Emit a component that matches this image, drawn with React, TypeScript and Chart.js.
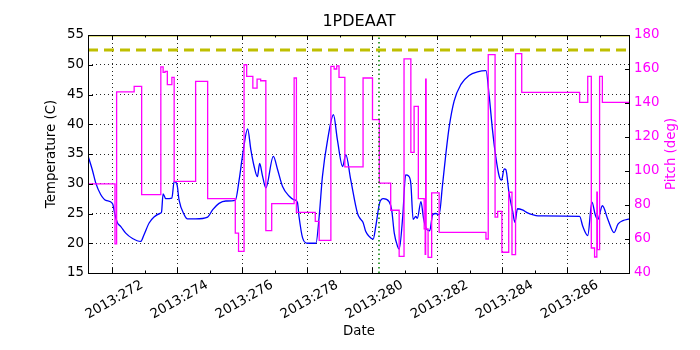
import React, { useEffect, useRef } from 'react';
import { Chart, registerables } from 'chart.js';

Chart.register(...registerables);

const chartTitle = '1PDEAAT';
const xTitle = 'Date';
const leftTitle = 'Temperature (C)';
const rightTitle = 'Pitch (deg)';
const datePrefix = '2013:';

const xMin = 271.26;
const xMax = 287.93;
const tempMin = 15;
const tempMax = 55;
const tempStep = 5;
const pitchMin = 40;
const pitchMax = 180;
const pitchStep = 20;

const planningLimit = 52.5;
const upperLimit = 55;
const markerDay = 280.21;

const tempDays = [
  271.26, 271.39, 271.5, 271.65, 271.81, 272.01, 272.09, 272.16, 272.27, 272.42,
  272.63, 272.88, 272.98, 273.14, 273.29, 273.47, 273.52, 273.57, 273.65, 273.84,
  273.91, 274.0, 274.06, 274.22, 274.32, 274.57, 274.94, 275.09, 275.29, 275.5,
  275.79, 275.91, 276.01, 276.17, 276.27, 276.37, 276.47, 276.54, 276.62, 276.73,
  276.96, 277.09, 277.24, 277.45, 277.6, 277.7, 277.75, 277.86, 278.01, 278.27,
  278.37, 278.47, 278.63, 278.81, 278.93, 279.09, 279.19, 279.34, 279.55, 279.65,
  279.72, 279.8, 279.9, 280.03, 280.11, 280.23, 280.34, 280.52, 280.6, 280.68,
  280.78, 280.83, 280.94, 281.03, 281.12, 281.19, 281.26, 281.34, 281.39, 281.5,
  281.58, 281.67, 281.77, 281.86, 281.96, 282.06, 282.16, 282.27, 282.37, 282.52,
  282.73, 282.98, 283.24, 283.5, 283.6, 283.7, 283.8, 283.91, 283.98, 284.06,
  284.11, 284.21, 284.32, 284.39, 284.47, 284.62, 284.78, 284.93, 285.1, 286.38,
  286.48, 286.63, 286.76, 286.86, 286.94, 287.08, 287.25, 287.44, 287.56, 287.71,
  287.92,
];
const tempValues = [
  34.7, 32.4, 30.1, 28.2, 27.2, 26.7, 24.8, 23.5, 22.8, 21.7,
  20.8, 20.3, 21.4, 23.4, 24.4, 25.0, 25.2, 28.3, 27.5, 27.6,
  30.4, 29.8, 27.3, 24.8, 24.1, 24.1, 24.4, 25.6, 26.7, 27.1,
  27.2, 30.7, 34.6, 39.2, 35.7, 32.9, 31.2, 33.4, 31.5, 29.3,
  34.6, 32.4, 29.6, 27.9, 27.3, 26.9, 24.5, 20.9, 20.0, 20.0,
  24.5, 31.2, 37.4, 41.6, 37.4, 32.9, 34.9, 30.7, 25.0, 24.0,
  23.5, 22.0, 21.2, 20.7, 22.8, 26.8, 27.5, 27.0, 25.6, 21.7,
  19.5, 19.0, 24.5, 31.5, 31.3, 30.0, 24.0, 24.5, 24.2, 27.0,
  24.2, 22.4, 22.1, 24.8, 25.0, 24.8, 29.6, 35.2, 39.6, 43.9,
  46.7, 48.2, 48.8, 49.0, 44.7, 39.1, 34.6, 31.2, 30.6, 32.5,
  32.4, 28.4, 25.4, 23.5, 25.8, 25.6, 25.1, 24.8, 24.6, 24.5,
  22.8, 21.3, 26.9, 24.8, 24.0, 26.3, 24.0, 21.8, 23.2, 23.8,
  24.1,
];

const pitchDays = [
  271.26, 272.09, 272.14, 272.68, 272.91, 273.5, 273.57, 273.63, 273.7, 273.84,
  273.91, 274.57, 274.94, 275.79, 275.89, 276.06, 276.14, 276.33, 276.46, 276.57,
  276.73, 276.91, 277.6, 277.67, 278.25, 278.37, 278.73, 278.83, 278.91, 278.98,
  279.16, 279.72, 280.01, 280.22, 280.57, 280.83, 280.98, 281.19, 281.29, 281.42,
  281.6, 281.63, 281.645, 281.66, 281.72, 281.83, 282.06, 283.5, 283.57, 283.78,
  283.86, 283.99, 284.2, 284.3, 284.41, 284.6, 286.38, 286.63, 286.74, 286.84,
  286.91, 286.925, 286.995, 287.08, 287.93,
];
const pitchValues = [
  92.4, 57.1, 146.5, 149.8, 86.1, 161.2, 158.0, 158.6, 150.8, 155.1,
  93.9, 152.7, 83.7, 63.5, 52.7, 162.5, 155.7, 148.8, 154.1, 153.1,
  64.9, 80.8, 154.7, 75.7, 70.4, 59.2, 161.6, 160.0, 161.8, 155.1,
  102.4, 154.7, 130.2, 92.9, 76.9, 49.8, 165.9, 111.0, 138.0, 83.7,
  66.0, 51.0, 154.0, 66.0, 49.2, 87.1, 63.9, 60.0, 168.4, 72.9,
  76.3, 52.2, 87.5, 50.8, 169.0, 146.3, 140.4, 155.7, 54.7, 49.4,
  87.6, 53.7, 155.7, 140.4, 140.4,
];

const FONT = "'DejaVu Sans', 'Liberation Sans', sans-serif";
const FS = 13.33;

export default function App() {
  const ref = useRef<HTMLCanvasElement>(null);

  useEffect(() => {
    const canvas = ref.current;
    if (!canvas) return;

    const decor = {
      id: 'decor',
      afterDatasetsDraw(chart: any) {
        const { ctx, chartArea: a, scales } = chart;
        ctx.save();
        ctx.strokeStyle = '#000';
        ctx.lineWidth = 1;
        ctx.strokeRect(a.left + 0.5, a.top + 0.5, a.right - a.left - 1, a.bottom - a.top);
        ctx.beginPath();
        for (let d = Math.ceil(xMin); d <= Math.floor(xMax); d++) {
          const px = Math.round(scales.x.getPixelForValue(d)) + 0.5;
          const len = d % 2 === 0 ? 5 : 2.5;
          ctx.moveTo(px, a.bottom);
          ctx.lineTo(px, a.bottom - len);
          ctx.moveTo(px, a.top);
          ctx.lineTo(px, a.top + len);
        }
        for (let v = tempMin; v <= tempMax; v += tempStep) {
          const py = Math.round(scales.y.getPixelForValue(v)) + 0.5;
          ctx.moveTo(a.left, py);
          ctx.lineTo(a.left + 5, py);
        }
        for (let v = pitchMin; v <= pitchMax; v += pitchStep) {
          const py = Math.round(scales.y1.getPixelForValue(v)) + 0.5;
          ctx.moveTo(a.right, py);
          ctx.lineTo(a.right - 5, py);
        }
        ctx.stroke();

        ctx.fillStyle = '#000';
        ctx.textAlign = 'center';
        ctx.textBaseline = 'middle';
        ctx.font = `16px ${FONT}`;
        ctx.fillText(chartTitle, (a.left + a.right) / 2, 22);
        ctx.font = `${FS}px ${FONT}`;
        ctx.fillText(xTitle, (a.left + a.right) / 2, 332);

        ctx.save();
        ctx.translate(52, (a.top + a.bottom) / 2);
        ctx.rotate(-Math.PI / 2);
        ctx.fillText(leftTitle, 0, 0);
        ctx.restore();

        ctx.save();
        ctx.fillStyle = '#ff00ff';
        ctx.translate(672, (a.top + a.bottom) / 2);
        ctx.rotate(-Math.PI / 2);
        ctx.fillText(rightTitle, 0, 0);
        ctx.restore();

        ctx.restore();
      },
    };

    const tempData = tempDays.map((d, i) => ({ x: d, y: tempValues[i] }));
    const pitchData = pitchDays.map((d, i) => ({ x: d, y: pitchValues[i] }));

    const chart = new Chart(canvas, {
      type: 'line',
      data: {
        datasets: [
          {
            label: 'limit',
            data: [{ x: xMin, y: upperLimit }, { x: xMax, y: upperLimit }],
            yAxisID: 'y',
            borderColor: '#bfbf00',
            borderWidth: 3,
            pointRadius: 0,
          },
          {
            label: 'planning',
            data: [{ x: xMin, y: planningLimit }, { x: xMax, y: planningLimit }],
            yAxisID: 'y',
            borderColor: '#bfbf00',
            borderWidth: 3,
            borderDash: [10, 6],
            pointRadius: 0,
          },
          {
            label: 'marker',
            data: [{ x: markerDay, y: tempMin }, { x: markerDay, y: tempMax }],
            yAxisID: 'y',
            borderColor: '#008000',
            borderWidth: 1.5,
            borderDash: [1.5, 3],
            pointRadius: 0,
          },
          {
            label: 'pitch',
            data: pitchData,
            yAxisID: 'y1',
            borderColor: '#ff00ff',
            borderWidth: 1.3,
            stepped: 'before',
            pointRadius: 0,
          },
          {
            label: 'temp',
            data: tempData,
            yAxisID: 'y',
            borderColor: '#0000ff',
            borderWidth: 1.3,
            cubicInterpolationMode: 'monotone',
            pointRadius: 0,
          },
        ],
      },
      options: {
        responsive: false,
        animation: false,
        parsing: true,
        layout: { padding: { top: 35, left: 0, right: 0, bottom: 0 } },
        plugins: { legend: { display: false }, tooltip: { enabled: false }, title: { display: false } },
        scales: {
          x: {
            type: 'linear',
            position: 'bottom',
            min: xMin,
            max: xMax,
            afterFit: (s: any) => { s.height = 77; },
            ticks: {
              stepSize: 1,
              includeBounds: false,
              autoSkip: false,
              minRotation: 30,
              maxRotation: 30,
              padding: 4,
              labelOffset: 30,
              color: '#000',
              font: { family: FONT, size: FS },
              callback: (v: any) => (Number(v) % 2 === 0 ? datePrefix + v : ''),
            },
            grid: {
              drawTicks: false,
              lineWidth: 1,
              color: (c: any) => (c.tick && Number(c.tick.value) % 2 === 0 ? 'rgba(0,0,0,0.85)' : 'rgba(0,0,0,0)'),
            },
            border: { display: false, dash: [1, 3] },
          },
          y: {
            type: 'linear',
            position: 'left',
            min: tempMin,
            max: tempMax,
            afterFit: (s: any) => { s.width = 88; },
            ticks: { stepSize: tempStep, padding: 4, color: '#000', font: { family: FONT, size: FS } },
            grid: { drawTicks: false, lineWidth: 1, color: 'rgba(0,0,0,0.85)' },
            border: { display: false, dash: [1, 3] },
          },
          y1: {
            type: 'linear',
            position: 'right',
            min: pitchMin,
            max: pitchMax,
            afterFit: (s: any) => { s.width = 70; },
            ticks: { stepSize: pitchStep, padding: 4, color: '#ff00ff', font: { family: FONT, size: FS } },
            grid: { drawOnChartArea: false, drawTicks: false },
            border: { display: false },
          },
        },
      },
      plugins: [decor],
    } as any);

    return () => chart.destroy();
  }, []);

  return (
    <div style={{ position: 'absolute', left: 0, top: 0, width: 700, height: 350, background: '#fff' }}>
      <canvas ref={ref} width={700} height={350} style={{ width: 700, height: 350, display: 'block' }} />
    </div>
  );
}
